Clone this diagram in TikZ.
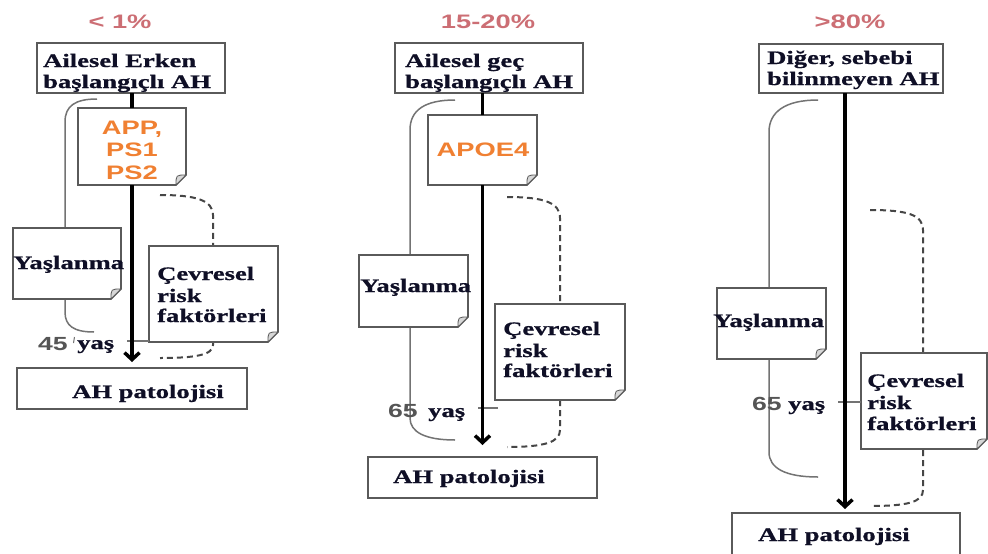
\documentclass[tikz,border=0pt]{standalone}
\usepackage{fontspec}
\setmainfont{Liberation Serif}[FakeStretch=1.4, BoldFeatures={FakeBold=0.8}]
\setsansfont{Liberation Sans}[FakeStretch=1.4]
\usetikzlibrary{arrows.meta}
\definecolor{pctred}{RGB}{204,110,116}
\definecolor{geneorange}{RGB}{240,128,50}
\definecolor{framegray}{RGB}{90,90,90}
\definecolor{brgray}{RGB}{115,115,115}
\definecolor{dashgray}{RGB}{70,70,70}
\definecolor{agegray}{RGB}{85,85,85}
\definecolor{txtdark}{RGB}{15,15,38}
\definecolor{foldgray}{RGB}{215,215,215}
\newcommand\boxfont{\fontsize{19}{21}\selectfont\bfseries}
\newcommand\pctfont{\sffamily\bfseries\fontsize{19.5}{22}\selectfont}
\newcommand\genefont{\sffamily\bfseries\fontsize{19.5}{22.5}\selectfont}
\newcommand\agefont{\sffamily\bfseries\fontsize{19}{21}\selectfont}
\tikzset{
  frame/.style={draw=framegray, line width=1.6pt},
  plainbox/.style={frame, fill=white, rectangle, inner sep=0pt, outer sep=0pt},
  notebg/.style={draw=none, fill=white, rectangle, inner sep=0pt, outer sep=0pt},
  mainline/.style={draw=black, line width=3.5pt},
  mainarrow/.style={mainline, -{Straight Barb[length=7pt,width=15pt]}},
  bracket/.style={draw=brgray, line width=1.5pt},
  riskdash/.style={draw=dashgray, line width=2pt, dash pattern=on 6pt off 4pt},
  agetick/.style={draw=brgray, line width=1.2pt},
  txt/.style={anchor=base west, inner sep=0pt, text=txtdark, font=\boxfont},
  pct/.style={inner sep=0pt, text=pctred, font=\pctfont},
  gene/.style={inner sep=0pt, text=geneorange, font=\genefont, align=center},
  age/.style={anchor=base west, inner sep=0pt, text=agegray, font=\agefont},
}
\newcommand\mkbox[6]{%
  \node[#1, minimum width={#5-#3}, minimum height={#6-#4}] (#2) at ({(#3+#5)/2},{(#4+#6)/2}) {};}
\newcommand\mknote[5]{%
  \mkbox{notebg}{#1}{#2}{#3}{#4}{#5}
  \draw[frame] (#1.north west) -- (#1.north east) -- ([yshift=10pt]#1.south east)
     -- ([xshift=-10pt]#1.south east) -- (#1.south west) -- cycle;
  \filldraw[draw=framegray, fill=foldgray, line width=0.8pt] ([yshift=10pt]#1.south east)
     -- ([xshift=-10pt]#1.south east) .. controls ([xshift=-10pt,yshift=10pt]#1.south east) .. ([yshift=10pt]#1.south east);}
\begin{document}
\begin{tikzpicture}[x=1pt, y=-1pt]
\useasboundingbox (0,0) rectangle (988,554);
\fill[white] (0,0) rectangle (988,554);
\clip (0,0) rectangle (988,554);

% ---------- coordinates for free ends ----------
\coordinate (b1s) at (97,99);   \coordinate (b1e) at (94,332);
\coordinate (b2s) at (455,100); \coordinate (b2e) at (455,440);
\coordinate (b3s) at (818,100); \coordinate (b3e) at (818,477);
\coordinate (d1s) at (160,195); \coordinate (d1e) at (160,358);
\coordinate (d2s) at (507,197); \coordinate (d2e) at (507,447);
\coordinate (d3s) at (870,210); \coordinate (d3e) at (870,506);
\coordinate (k1) at (127,341);
\coordinate (k2a) at (478,408); \coordinate (k2b) at (498,408);
\coordinate (k3) at (838,402);
\coordinate (m3) at (845,0);

% ---------- brackets (Yaşlanma) ----------
\draw[bracket] (b1s) .. controls (75,99) and (65,106) .. (65,122) -- (65,240);
\draw[bracket] (65,290) -- (65,312) .. controls (65,326) and (74,332) .. (b1e);
\draw[bracket] (b2s) .. controls (425,100) and (410,110) .. (410,130) -- (410,270);
\draw[bracket] (410,320) -- (410,418) .. controls (410,432) and (425,440) .. (b2e);
\draw[bracket] (b3s) .. controls (785,100) and (769,112) .. (769,132) -- (769,300);
\draw[bracket] (769,350) -- (769,452) .. controls (769,468) and (785,477) .. (b3e);

% ---------- dashed (risk) ----------
\draw[riskdash] (d1s) .. controls (195,195) and (213,200) .. (213,215) -- (213,260);
\draw[riskdash] (213,330) -- (213,345) .. controls (213,355) and (195,358) .. (d1e);
\draw[riskdash] (d2s) .. controls (545,197) and (560,203) .. (560,218) -- (560,320);
\draw[riskdash] (560,390) -- (560,430) .. controls (560,442) and (545,447) .. (d2e);
\draw[riskdash] (d3s) .. controls (908,210) and (923,215) .. (923,230) -- (923,370);
\draw[riskdash] (923,440) -- (923,490) .. controls (923,502) and (908,506) .. (d3e);

% ---------- boxes ----------
\mkbox{plainbox}{top1}{37}{43}{225}{93}
\mkbox{plainbox}{top2}{395}{43}{583}{93}
\mkbox{plainbox}{top3}{759}{44}{943}{93}
\mkbox{plainbox}{ah1}{17}{368}{247}{409}
\mkbox{plainbox}{ah2}{368}{457}{597}{498}
\mkbox{plainbox}{ah3}{732}{513}{960}{570}
\mknote{gene1}{78}{108}{186}{185}
\mknote{gene2}{428}{115}{537}{185}
\mknote{yas1}{13}{228}{121}{299}
\mknote{yas2}{359}{255}{468}{327}
\mknote{yas3}{717}{288}{826}{359}
\mknote{cev1}{149}{246}{278}{342}
\mknote{cev2}{495}{304}{625}{400}
\mknote{cev3}{861}{353}{987}{449}

% ---------- age ticks ----------
\draw[agetick] (k1) -- (k1 -| cev1.west);
\draw[agetick] (k2a) -- (k2b);
\draw[agetick] (k3) -- (k3 -| cev3.west);
\draw[agetick, line width=1pt] (74.5,337) -- (73.5,343);

% ---------- main arrows ----------
\draw[mainline] (gene1.north |- top1.south) -- (gene1.north);
\draw[mainarrow, shorten >=6pt] (gene1.south) -- (gene1.south |- ah1.north);
\draw[mainline] (gene2.north |- top2.south) -- (gene2.north);
\draw[mainarrow, shorten >=12pt] (gene2.south) -- (gene2.south |- ah2.north);
\draw[mainarrow, shorten >=4pt] (top3.south -| m3) -- (ah3.north -| m3);

% ---------- texts ----------
\node[pct] (pct1) at (120,22) {< 1\%};
\node[pct] (pct2) at (488,22) {15-20\%};
\node[pct] (pct3) at (850,22) {>80\%};

\node[txt] (t1a) at (43,67) {Ailesel Erken};
\node[txt] (t1b) at (43,88) {başlangıçlı AH};
\node[txt] (t2a) at (405,67) {Ailesel geç};
\node[txt] (t2b) at (405,88) {başlangıçlı AH};
\node[txt] (t3a) at (767,64) {Diğer, sebebi};
\node[txt] (t3b) at (767,85) {bilinmeyen AH};

\node[gene] (g1) at (132,150) {APP,\\PS1\\PS2};
\node[gene] (g2) at (483,150) {APOE4};

\node[txt] (y1) at (13,269) {Yaşlanma};
\node[txt] (y2) at (360,292) {Yaşlanma};
\node[txt] (y3) at (713,327) {Yaşlanma};

\node[txt] (c1a) at (157,280) {Çevresel};
\node[txt] (c1b) at (157,302) {risk};
\node[txt] (c1c) at (157,322) {faktörleri};
\node[txt] (c2a) at (503,335) {Çevresel};
\node[txt] (c2b) at (503,357) {risk};
\node[txt] (c2c) at (503,377) {faktörleri};
\node[txt] (c3a) at (867,387) {Çevresel};
\node[txt] (c3b) at (867,409) {risk};
\node[txt] (c3c) at (867,430) {faktörleri};

\node[txt] (p1) at (72,398) {AH patolojisi};
\node[txt] (p2) at (393,483) {AH patolojisi};
\node[txt] (p3) at (758,541) {AH patolojisi};

\node[age] (a1) at (38,350) {45};
\node[txt] (a1y) at (77,349) {yaş};
\node[age] (a2) at (388,417) {65};
\node[txt] (a2y) at (428,417) {yaş};
\node[age] (a3) at (752,410) {65};
\node[txt] (a3y) at (788,410) {yaş};
\end{tikzpicture}
\end{document}
